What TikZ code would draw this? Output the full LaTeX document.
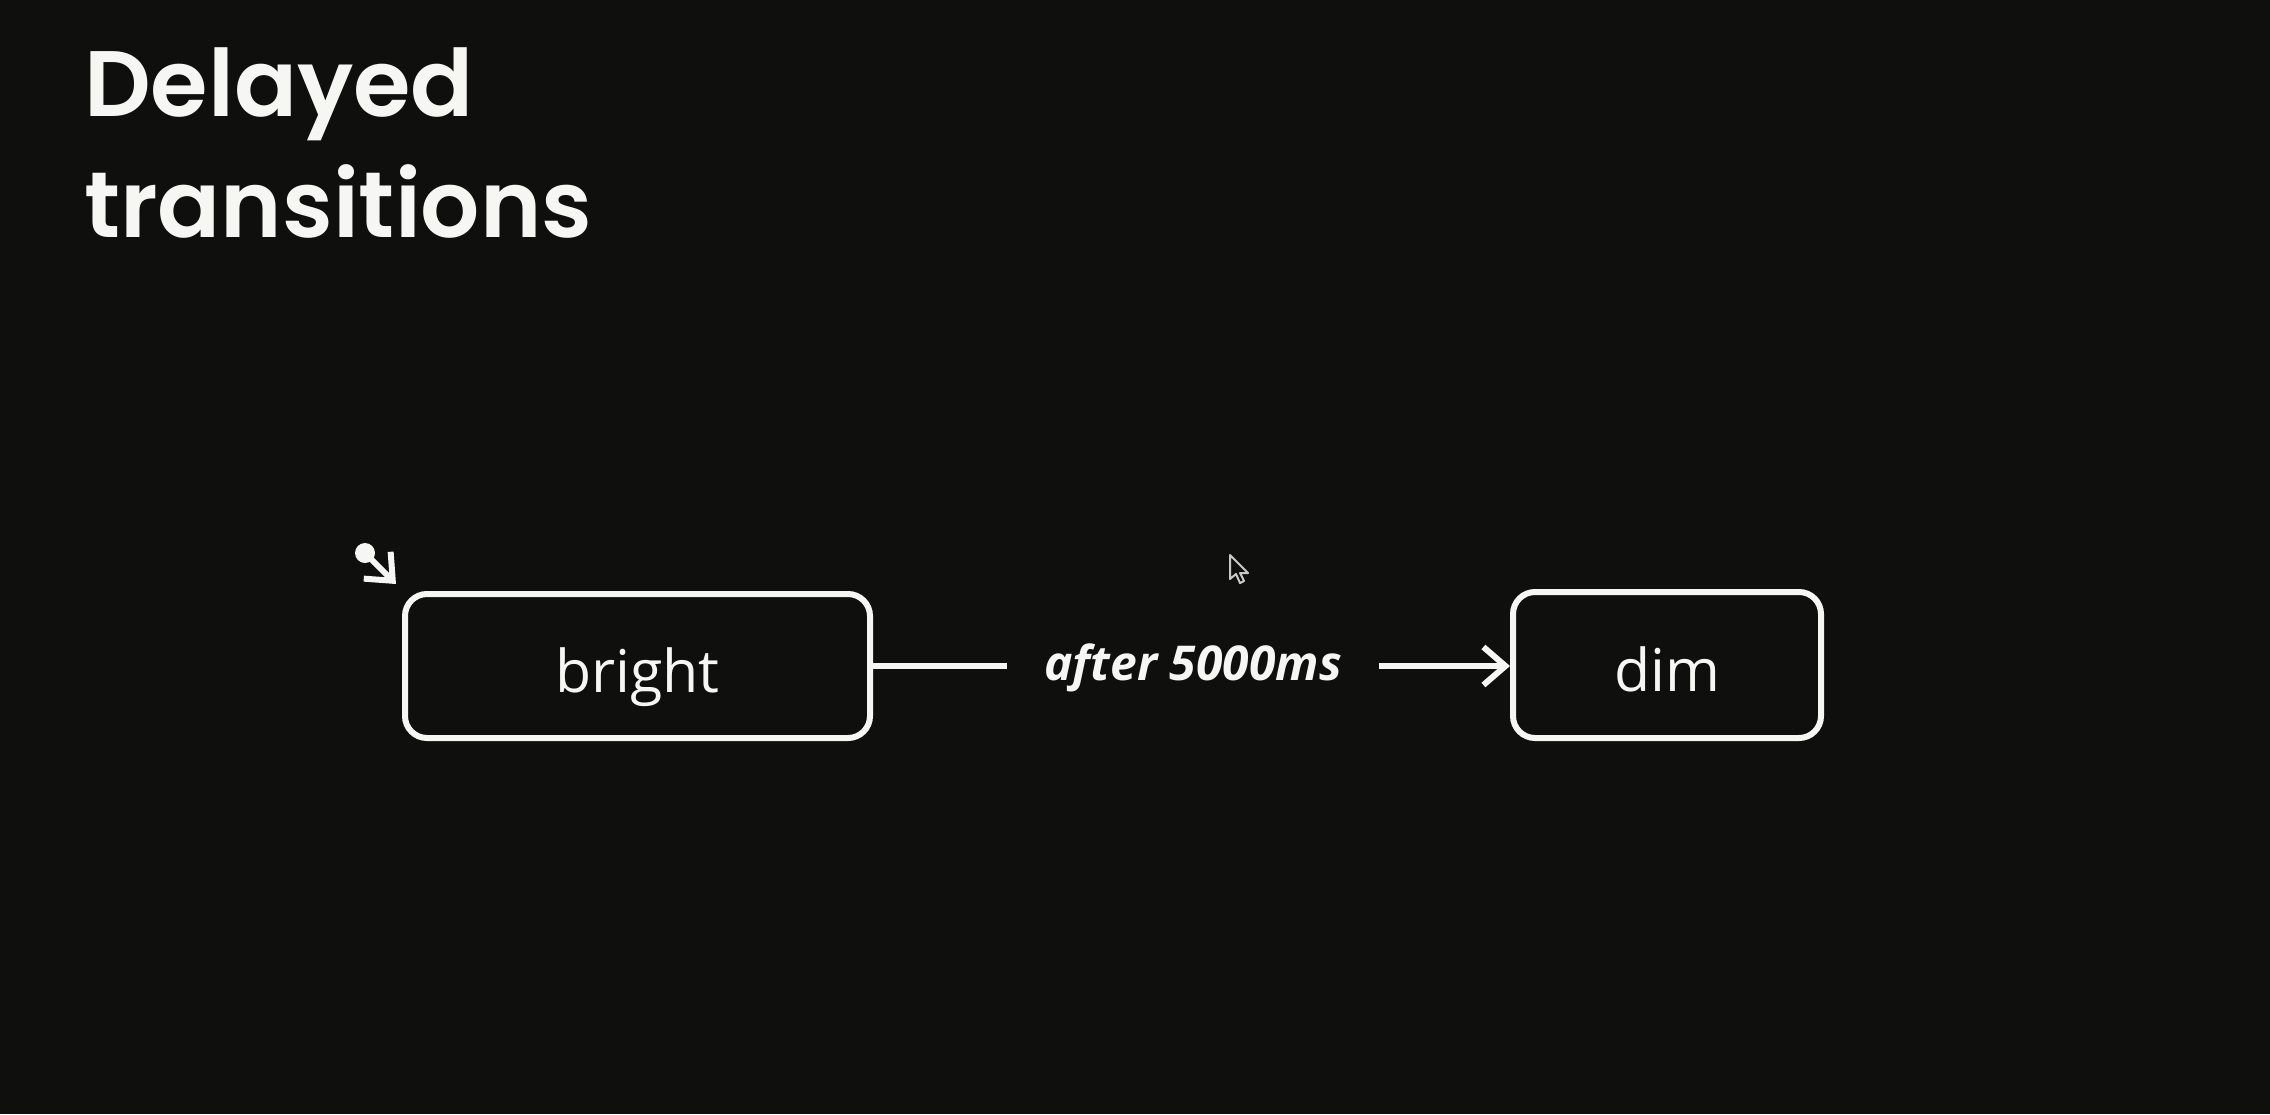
\documentclass[tikz,border=0pt]{standalone}
\usepackage{fontspec}
\setmainfont{Open Sans}
\newfontfamily\titlefont{Poppins}[UprightFont={* SemiBold}]
\newfontfamily\boxfont{Open Sans}
\usetikzlibrary{arrows.meta}
\definecolor{bg}{RGB}{15,15,14}
\definecolor{fg}{RGB}{246,246,242}
\definecolor{cursorgray}{RGB}{200,200,200}
\tikzset{
  statebox/.style={draw=fg, line width=6pt, rounded corners=22pt, inner sep=0pt,
    text=fg, font=\boxfont\fontsize{59}{64}\selectfont, text height=52pt, text depth=0pt},
  titletext/.style={text=fg, font=\titlefont\fontsize{93}{100}\selectfont, inner sep=0pt, anchor=base west},
  conn/.style={draw=fg, line width=6pt},
  tip/.style={-{Straight Barb[length=22pt,width=38pt,line width=6pt]}}
}
\begin{document}
\begin{tikzpicture}[x=1pt,y=-1pt]
\fill[bg] (0,0) rectangle (2270,1114);
\useasboundingbox (0,0) rectangle (2270,1114);
% title
\node[titletext] (title1) at (84,116) {Delayed};
\node[titletext] (title2) at (84,237) {transitions};
% states
\node[statebox, minimum width=465pt, minimum height=144pt] (bright) at (637.5,666) {bright};
\node[statebox, minimum width=308pt, minimum height=146pt] (dim) at (1667,665) {dim};
% initial marker
\node[circle, fill=fg, inner sep=0pt, minimum size=20pt] (init) at (365,553) {};
\coordinate (inittip) at (396,584);
\draw[conn, tip] (init.center) -- (inittip);
% transition
\node[text=fg, font=\boxfont\bfseries\itshape\fontsize{48}{54}\selectfont, inner xsep=37pt, inner ysep=0pt] (lab) at (1193,668) {after 5000ms};
\draw[conn] (bright.east) -- (bright.east -| lab.west);
\draw[conn, tip] (bright.east -| lab.east) -- (bright.east -| dim.west);
% mouse cursor
\draw[cursorgray, line width=2pt, fill=bg, line join=round]
  (1230,555) -- ++(0,24) -- ++(6,-5) -- ++(4,9) -- ++(4,-2) -- ++(-4,-8) -- ++(8,0) -- cycle;
\end{tikzpicture}
\end{document}
